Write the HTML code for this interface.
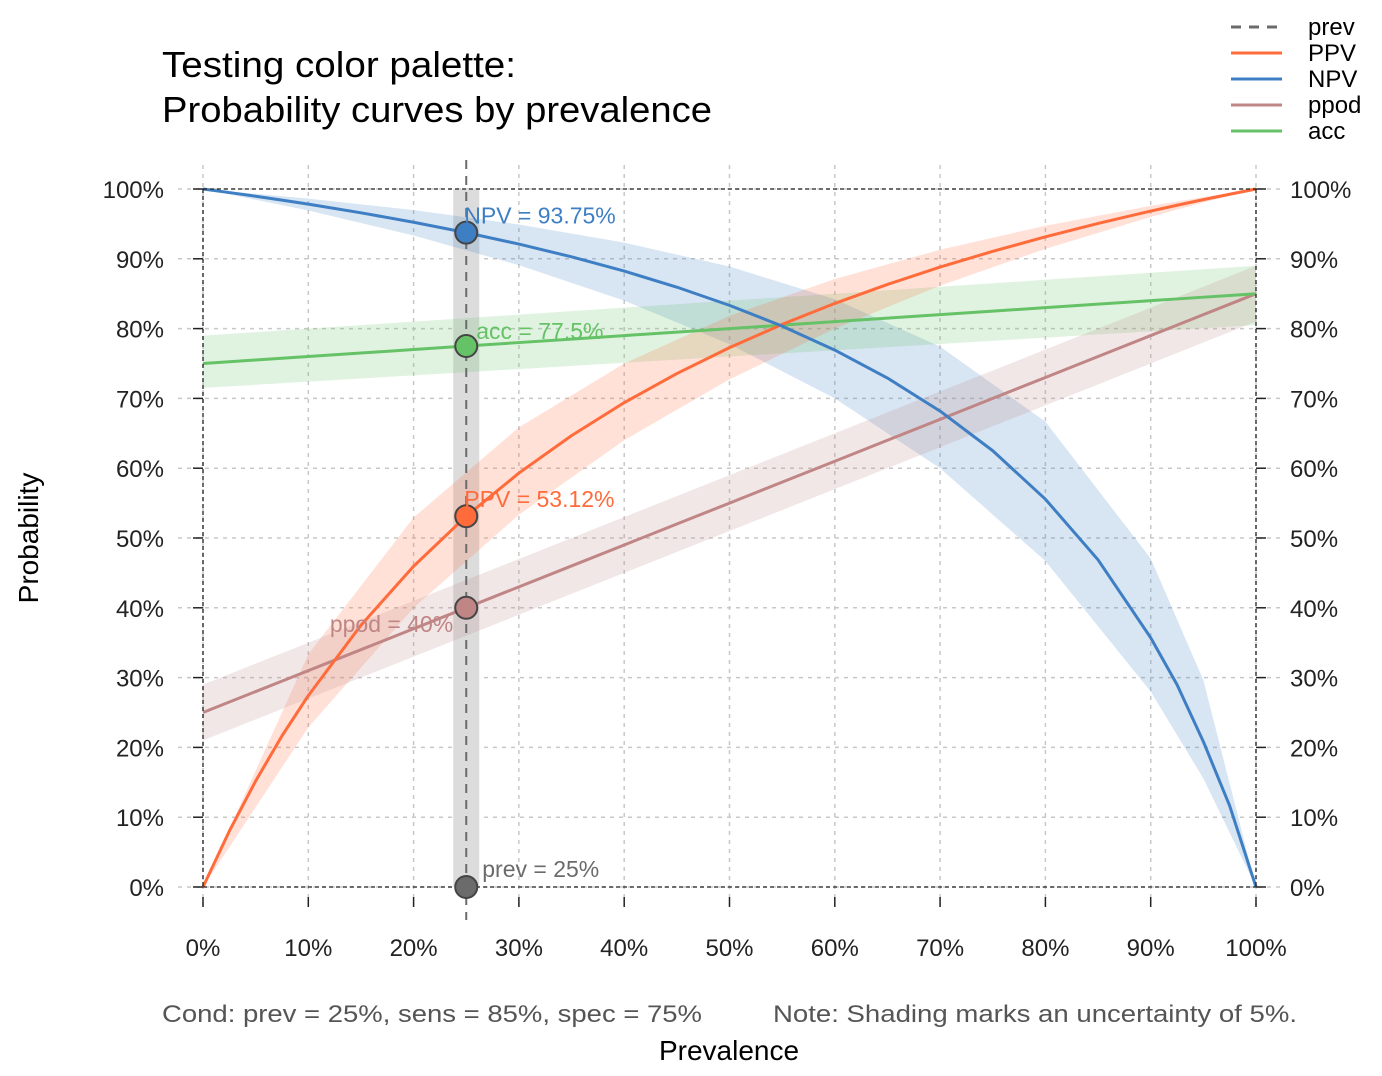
<!DOCTYPE html>
<html><head><meta charset="utf-8">
<style>
html,body{margin:0;padding:0;background:#fff;}
svg{display:block;font-family:"Liberation Sans",Arial,sans-serif;}
</style></head>
<body>
<svg id="chart" width="1382" height="1076" viewBox="0 0 1382 1076">
<text x="162" y="77" font-size="36" textLength="354" lengthAdjust="spacingAndGlyphs" fill="#000">Testing color palette:</text>
<text x="162" y="122" font-size="36" textLength="550" lengthAdjust="spacingAndGlyphs" fill="#000">Probability curves by prevalence</text>
<text transform="translate(38,538) rotate(-90)" text-anchor="middle" font-size="28">Probability</text>
<text x="729" y="1060" text-anchor="middle" font-size="28">Prevalence</text>
<text x="162" y="1022" font-size="24" textLength="540" lengthAdjust="spacingAndGlyphs" fill="#555">Cond:  prev = 25%, sens = 85%, spec = 75%</text>
<text x="773" y="1022" font-size="24" textLength="524" lengthAdjust="spacingAndGlyphs" fill="#555">Note:  Shading marks an uncertainty of 5%.</text>
<g id="grid"></g>
<g id="bands"></g>
<g id="lines"></g>
<g id="axes"></g>
<g id="points"></g>
<g id="legend"></g>
</svg>
<script>
const prevGrid = [0,0.025,0.05,0.075,0.1,0.15,0.2,0.25,0.3,0.35,0.4,0.45,0.5,0.55,0.6,0.65,0.7,0.75,0.8,0.85,0.9,0.925,0.95,0.975,1];
const ppvValues = [0,0.0801,0.1518,0.2165,0.2742,0.375,0.4595,0.53125,0.593,0.6467,0.6939,0.7356,0.7727,0.806,0.8361,0.8633,0.8881,0.9107,0.9315,0.9507,0.9684,0.9767,0.9848,0.9925,1];
const npvValues = [1,0.9949,0.9896,0.9841,0.9783,0.9659,0.9524,0.9375,0.9211,0.9028,0.8824,0.8594,0.8333,0.8036,0.7692,0.7292,0.6818,0.625,0.5556,0.46875,0.3571,0.2899,0.2083,0.1163,0];
const ppodValues = [0.25,0.265,0.28,0.295,0.31,0.34,0.37,0.4,0.43,0.46,0.49,0.52,0.55,0.58,0.61,0.64,0.67,0.7,0.73,0.76,0.79,0.805,0.82,0.835,0.85];
const accValues = [0.75,0.7525,0.755,0.7575,0.76,0.765,0.77,0.775,0.78,0.785,0.79,0.795,0.8,0.805,0.81,0.815,0.82,0.825,0.83,0.835,0.84,0.8425,0.845,0.8475,0.85];
const bandGrid = [0,0.1,0.2,0.3,0.4,0.5,0.6,0.7,0.8,0.9,0.95,1];
const ppvLow = [0,0.2286,0.4,0.5333,0.64,0.7273,0.8,0.8615,0.9143,0.96,0.9806,1];
const ppvHigh = [0,0.3333,0.5294,0.6585,0.75,0.8182,0.871,0.913,0.9474,0.9759,0.9884,1];
const npvLow = [1,0.9692,0.9333,0.8909,0.84,0.7778,0.7,0.6,0.467,0.28,0.1556,0];
const npvHigh = [1,0.9863,0.9697,0.9492,0.9231,0.8889,0.8421,0.7742,0.6667,0.4706,0.2963,0];
const ppodLow = [0.21,0.27,0.33,0.39,0.45,0.51,0.57,0.63,0.69,0.75,0.78,0.81];
const ppodHigh = [0.29,0.35,0.41,0.47,0.53,0.59,0.65,0.71,0.77,0.83,0.86,0.89];
const accLow = [0.715,0.724,0.733,0.742,0.751,0.76,0.769,0.778,0.787,0.796,0.8005,0.805];
const accHigh = [0.79,0.80,0.81,0.82,0.83,0.84,0.85,0.86,0.87,0.88,0.885,0.89];
const tickValues = [0,0.1,0.2,0.3,0.4,0.5,0.6,0.7,0.8,0.9,1];
const tickLabels = ["0%","10%","20%","30%","40%","50%","60%","70%","80%","90%","100%"];
const prevPoint = 0.25;
const pointValues = [0.9375,0.775,0.53125,0.4,0];
const pointNames = ["npv","acc","ppv","ppod","prev"];
const pointLabels = ["NPV = 93.75%","acc = 77.5%","PPV = 53.12%","ppod = 40%","prev = 25%"];
const legendLabels = ["prev","PPV","NPV","ppod","acc"];

const C = {prev:"#6b6b6b",ppv:"#FF6B3A",npv:"#3E7FC4",ppod:"#C08585",acc:"#66C266"};
const X0=203,X1=1256,Y0=887,Y1=189;
const sx=v=>X0+(X1-X0)*v, sy=v=>Y0-(Y0-Y1)*v;
const NS="http://www.w3.org/2000/svg";
function mk(tag,parent,attrs){const e=document.createElementNS(NS,tag);for(const k in attrs)e.setAttribute(k,attrs[k]);parent.appendChild(e);return e;}
const grid=document.getElementById('grid'),bands=document.getElementById('bands'),lines=document.getElementById('lines'),axes=document.getElementById('axes'),pts=document.getElementById('points'),leg=document.getElementById('legend');

tickValues.forEach((t,i)=>{
  let g1=mk('line',grid,{x1:sx(t),x2:sx(t),y1:165,y2:905,stroke:"#c8c8c8","stroke-width":1.5,"stroke-dasharray":"4,5"});
  
  
  let g2=mk('line',grid,{x1:178,x2:1280,y1:sy(t),y2:sy(t),stroke:"#c8c8c8","stroke-width":1.5,"stroke-dasharray":"4,5"});
  
  
});
let pb=mk('rect',bands,{x:sx(prevPoint)-13,y:Y1,width:26,height:Y0-Y1,fill:"#dcdcdc"});



function band(lo,hi,col,name){
  let d="M"+bandGrid.map((p,i)=>sx(p)+","+sy(lo[i])).join("L");
  d+="L"+bandGrid.map((p,i)=>[p,i]).reverse().map(([p,i])=>sx(p)+","+sy(hi[i])).join("L")+"Z";
  let e=mk('path',bands,{d:d,fill:col,"fill-opacity":0.2});
  
  
}
band(npvLow,npvHigh,C.npv,'npv-band');
band(accLow,accHigh,C.acc,'acc-band');
band(ppvLow,ppvHigh,C.ppv,'ppv-band');
band(ppodLow,ppodHigh,C.ppod,'ppod-band');

function curve(vals,col,name){
  let d="M"+prevGrid.map((p,i)=>sx(p)+","+sy(vals[i])).join("L");
  let e=mk('path',lines,{d:d,fill:"none",stroke:col,"stroke-width":3,"stroke-linejoin":"round"});
  
  
}
curve(ppodValues,C.ppod,'ppod-line');
curve(accValues,C.acc,'acc-line');
curve(ppvValues,C.ppv,'ppv-line');
curve(npvValues,C.npv,'npv-line');

[[X0,Y0,X1,Y0],[X0,Y1,X1,Y1],[X0,Y1,X0,Y0],[X1,Y1,X1,Y0]].forEach(a=>{
  let e=mk('line',axes,{x1:a[0],y1:a[1],x2:a[2],y2:a[3],stroke:"#222","stroke-width":1.3,"stroke-dasharray":"4,3"});
  
  
});
tickValues.forEach((t,i)=>{
  mk('line',axes,{x1:193,x2:X0,y1:sy(t),y2:sy(t),stroke:"#222","stroke-width":1.5});
  mk('line',axes,{x1:X1,x2:1266,y1:sy(t),y2:sy(t),stroke:"#222","stroke-width":1.5});
  mk('line',axes,{x1:sx(t),x2:sx(t),y1:897,y2:907,stroke:"#222","stroke-width":1.5});
  let l=mk('text',axes,{x:164,y:sy(t)+9,"text-anchor":"end","font-size":24,fill:"#222"});l.textContent=tickLabels[i];
  
  
  let r=mk('text',axes,{x:1290,y:sy(t)+9,"font-size":24,fill:"#222"});r.textContent=tickLabels[i];
  
  
  let b=mk('text',axes,{x:sx(t),y:956,"text-anchor":"middle","font-size":24,fill:"#222"});b.textContent=tickLabels[i];
  
  
});
let pl=mk('line',axes,{x1:sx(prevPoint),x2:sx(prevPoint),y1:160,y2:920,stroke:C.prev,"stroke-width":2,"stroke-dasharray":"9,7"});



pointNames.forEach((n,i)=>{
  const cx=sx(prevPoint),cy=sy(pointValues[i]);
  let c=mk('circle',pts,{cx:cx,cy:cy,r:11,fill:C[n],stroke:"#444","stroke-width":2});
  
  
  let a={x:cx-2,y:cy-9,"font-size":23,fill:C[n]};
  if(n==='acc'){a.x=cx+10;a.y=cy-7;}
  if(n==='ppod'){a.x=cx-13;a.y=cy+24;a["text-anchor"]="end";}
  if(n==='prev'){a.x=cx+16;a.y=cy-10;}
  if(n==='ppv'){a.y=cy-9;}
  let t=mk('text',pts,a);t.textContent=pointLabels[i];
  
  
});

const legKeys=["prev","ppv","npv","ppod","acc"];
legKeys.forEach((k,i)=>{
  const y=27+i*26;
  let l=mk('line',leg,{x1:1231,x2:1282,y1:y,y2:y,stroke:C[k],"stroke-width":3,"stroke-dasharray":k==='prev'?"10,8":"none"});
  
  
  let t=mk('text',leg,{x:1308,y:y+8,"font-size":24,fill:"#000"});t.textContent=legendLabels[i];
  
  
});
</script>
</body></html>
